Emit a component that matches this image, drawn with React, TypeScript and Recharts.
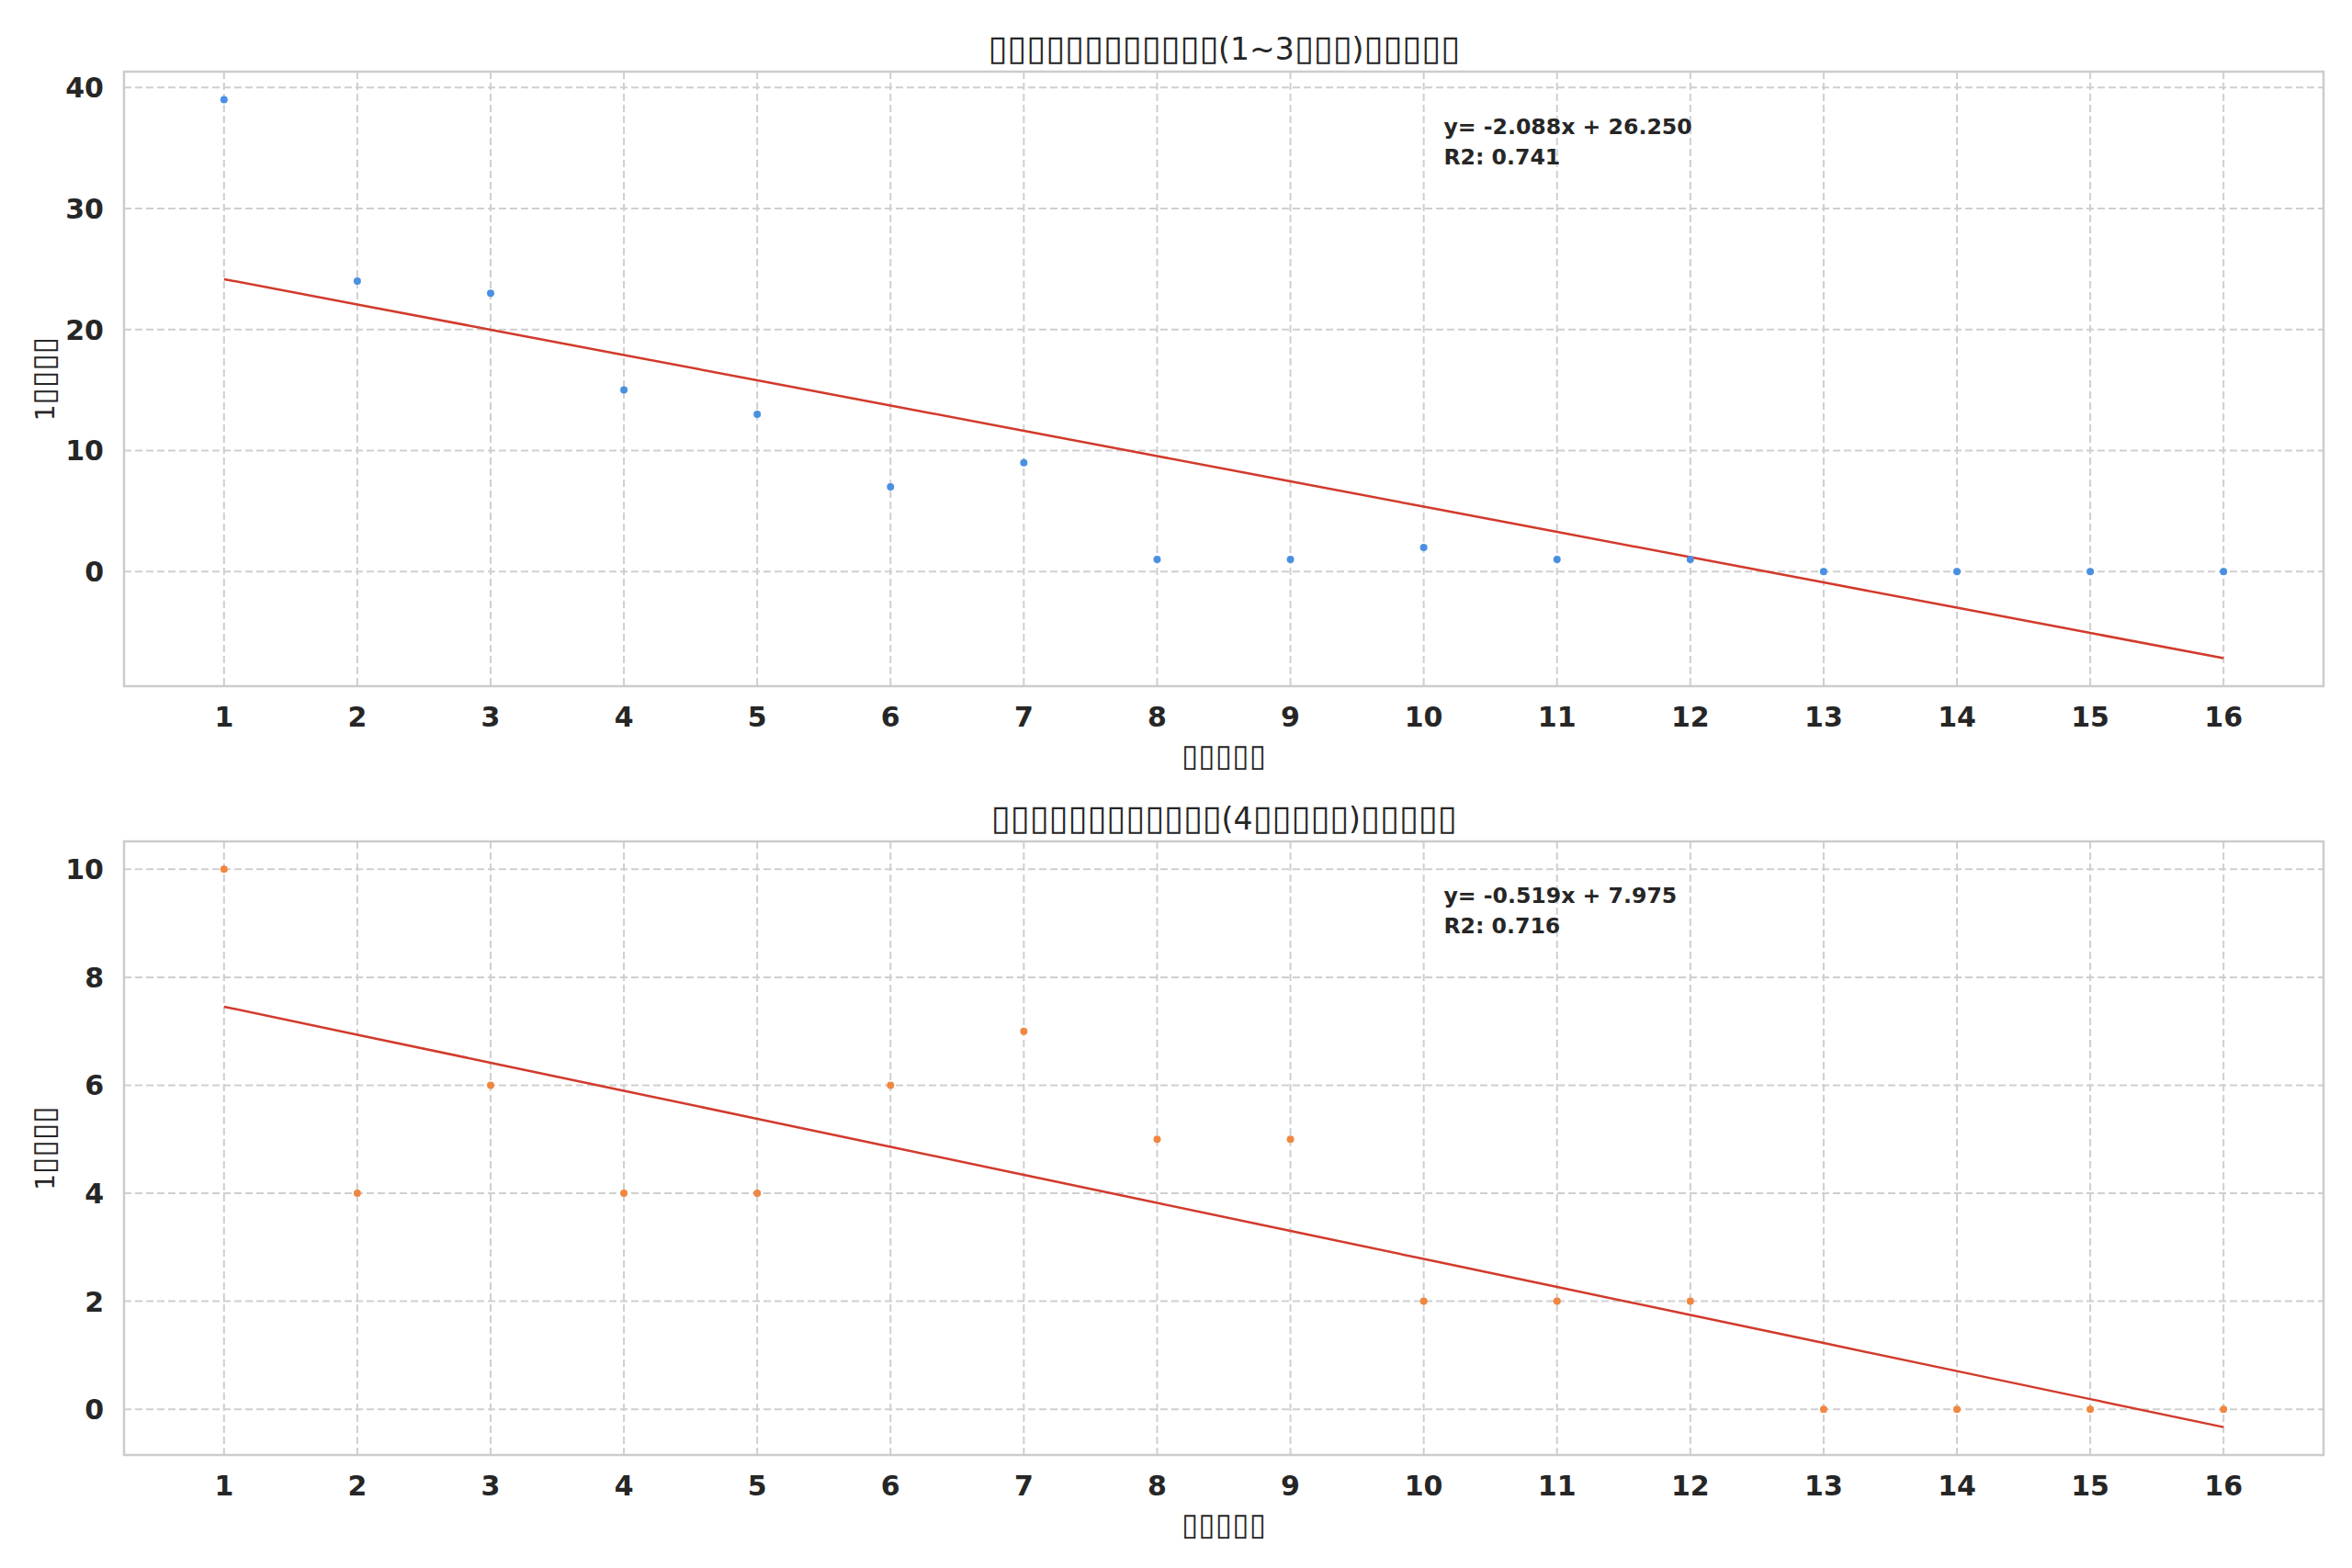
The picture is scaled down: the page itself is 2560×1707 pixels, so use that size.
import React from "react";
import {
  ComposedChart,
  Scatter,
  Line,
  XAxis,
  YAxis,
  CartesianGrid,
  ReferenceArea,
} from "recharts";

// ---------- data ----------
const weeks = [1, 2, 3, 4, 5, 6, 7, 8, 9, 10, 11, 12, 13, 14, 15, 16];
const groupEarly = [39, 24, 23, 15, 13, 7, 9, 1, 1, 2, 1, 1, 0, 0, 0, 0];
const groupLate = [10, 4, 6, 4, 4, 6, 7, 5, 5, 2, 2, 2, 0, 0, 0, 0];
const xTicks = [1, 2, 3, 4, 5, 6, 7, 8, 9, 10, 11, 12, 13, 14, 15, 16];
const yTicksEarly = [0, 10, 20, 30, 40];
const yTicksLate = [0, 2, 4, 6, 8, 10];
const titleEarly = "▯▯▯▯▯▯▯▯▯▯▯▯(1~3▯▯▯)▯▯▯▯▯";
const titleLate = "▯▯▯▯▯▯▯▯▯▯▯▯(4▯▯▯▯▯)▯▯▯▯▯";
const xLabel = "▯▯▯▯▯";
const yLabel = "1▯▯▯▯";

// ---------- helpers ----------
function linearFit(xs: number[], ys: number[]) {
  const n = xs.length;
  const mx = xs.reduce((a, b) => a + b, 0) / n;
  const my = ys.reduce((a, b) => a + b, 0) / n;
  let sxy = 0, sxx = 0, syy = 0;
  for (let i = 0; i < n; i++) {
    sxy += (xs[i] - mx) * (ys[i] - my);
    sxx += (xs[i] - mx) ** 2;
    syy += (ys[i] - my) ** 2;
  }
  const slope = sxy / sxx;
  const intercept = my - slope * mx;
  const r2 = (sxy * sxy) / (sxx * syy);
  return { slope, intercept, r2 };
}

function pad(lo: number, hi: number): [number, number] {
  const m = (hi - lo) * 0.05;
  return [lo - m, hi + m];
}

// split text into runs of missing-glyph boxes and regular characters
function boxRuns(text: string, boxSize: number) {
  const runs: { s: string; box: boolean }[] = [];
  for (const ch of Array.from(text)) {
    const box = ch === "▯";
    const last = runs[runs.length - 1];
    if (last && last.box === box) last.s += ch;
    else runs.push({ s: ch, box });
  }
  return runs.map((r, i) =>
    r.box ? (
      <tspan key={i} fontSize={boxSize}>
        {r.s}
      </tspan>
    ) : (
      <tspan key={i}>{r.s}</tspan>
    )
  );
}

const FONT = "'DejaVu Sans', sans-serif";
const TEXT = "#262626";
const GRID = "#cfcfcf";

const W = 2560;
const PLOT_LEFT = 135;
const PLOT_RIGHT = 2529;

type PanelProps = {
  top: number;
  height: number;
  marginTop: number;
  xAxisHeight: number;
  values: number[];
  yTicks: number[];
  color: string;
};

function Panel({ top, height, marginTop, xAxisHeight, values, yTicks, color }: PanelProps) {
  const fit = linearFit(weeks, values);
  const points = weeks.map((x, i) => ({ x, y: values[i] }));
  const fitLine = weeks.map((x) => ({ x, y: fit.slope * x + fit.intercept }));
  const allY = [...values, ...fitLine.map((p) => p.y)];
  const yDom = pad(Math.min(...allY), Math.max(...allY));
  const xDom = pad(Math.min(...weeks), Math.max(...weeks));

  const XTick = (p: any) => (
    <text
      x={p.x}
      y={p.y + 44}
      textAnchor="middle"
      fontFamily={FONT}
      fontWeight="bold"
      fontSize={30}
      fill={TEXT}
    >
      {p.payload.value}
    </text>
  );
  const YTick = (p: any) => (
    <text
      x={p.x - 22}
      y={p.y + 11}
      textAnchor="end"
      fontFamily={FONT}
      fontWeight="bold"
      fontSize={30}
      fill={TEXT}
    >
      {p.payload.value}
    </text>
  );
  const Dot = (p: any) => <circle cx={p.cx} cy={p.cy} r={4} fill={color} />;

  return (
    <div style={{ position: "absolute", left: 0, top, width: W, height }}>
      <ComposedChart
        width={W}
        height={height}
        margin={{ top: marginTop, right: W - PLOT_RIGHT, bottom: 0, left: 0 }}
      >
        <CartesianGrid stroke={GRID} strokeWidth={2} strokeDasharray="8 4" />
        <XAxis
          type="number"
          dataKey="x"
          domain={xDom}
          ticks={xTicks}
          allowDataOverflow
          height={xAxisHeight}
          axisLine={false}
          tickLine={false}
          tickSize={0}
          tickMargin={0}
          tick={XTick}
          interval={0}
        />
        <YAxis
          type="number"
          dataKey="y"
          domain={yDom}
          ticks={yTicks}
          allowDataOverflow
          width={PLOT_LEFT}
          axisLine={false}
          tickLine={false}
          tickSize={0}
          tickMargin={0}
          tick={YTick}
          interval={0}
        />
        <ReferenceArea
          x1={xDom[0]}
          x2={xDom[1]}
          y1={yDom[0]}
          y2={yDom[1]}
          fill="none"
          fillOpacity={0}
          stroke="#cccccc"
          strokeWidth={2.5}
          ifOverflow="visible"
        />
        <Line
          data={fitLine}
          dataKey="y"
          type="linear"
          stroke="#d23a2b"
          strokeWidth={2.5}
          dot={false}
          activeDot={false}
          isAnimationActive={false}
        />
        <Scatter data={points} dataKey="y" shape={Dot} isAnimationActive={false} />
      </ComposedChart>
    </div>
  );
}

function fitText(values: number[]) {
  const f = linearFit(weeks, values);
  const sign = f.intercept >= 0 ? "+" : "-";
  return [
    `y= ${f.slope.toFixed(3)}x ${sign} ${Math.abs(f.intercept).toFixed(3)}`,
    `R2: ${f.r2.toFixed(3)}`,
  ];
}

export default function App() {
  const cx = (PLOT_LEFT + PLOT_RIGHT) / 2;
  const annEarly = fitText(groupEarly);
  const annLate = fitText(groupLate);
  const annX = PLOT_LEFT + 0.6 * (PLOT_RIGHT - PLOT_LEFT);
  return (
    <div
      style={{
        position: "absolute",
        left: 0,
        top: 0,
        width: W,
        height: 1707,
        background: "#ffffff",
        overflow: "hidden",
      }}
    >
      <Panel
        top={0}
        height={853}
        marginTop={78}
        xAxisHeight={106}
        values={groupEarly}
        yTicks={yTicksEarly}
        color="#4a90e2"
      />
      <Panel
        top={853}
        height={854}
        marginTop={63}
        xAxisHeight={123}
        values={groupLate}
        yTicks={yTicksLate}
        color="#f08741"
      />
      <svg
        width={W}
        height={1707}
        style={{ position: "absolute", left: 0, top: 0, pointerEvents: "none" }}
      >
        <g fontFamily={FONT} fill={TEXT}>
          <text x={cx} y={65} textAnchor="middle" fontSize={33}>
            {boxRuns(titleEarly, 38)}
          </text>
          <text x={cx} y={903} textAnchor="middle" fontSize={33}>
            {boxRuns(titleLate, 38)}
          </text>
          <text x={cx} y={834} textAnchor="middle" fontSize={28}>
            {boxRuns(xLabel, 33.5)}
          </text>
          <text x={cx} y={1671} textAnchor="middle" fontSize={28}>
            {boxRuns(xLabel, 33.5)}
          </text>
          <text x={59} y={412.5} textAnchor="middle" fontSize={28} transform="rotate(-90 59 412.5)">
            {boxRuns(yLabel, 33.5)}
          </text>
          <text x={59} y={1250} textAnchor="middle" fontSize={28} transform="rotate(-90 59 1250)">
            {boxRuns(yLabel, 33.5)}
          </text>
          <g fontWeight="bold" fontSize={23.6}>
            <text x={annX} y={145.5}>{annEarly[0]}</text>
            <text x={annX} y={178.5}>{annEarly[1]}</text>
            <text x={annX} y={983}>{annLate[0]}</text>
            <text x={annX} y={1016}>{annLate[1]}</text>
          </g>
        </g>
      </svg>
    </div>
  );
}
